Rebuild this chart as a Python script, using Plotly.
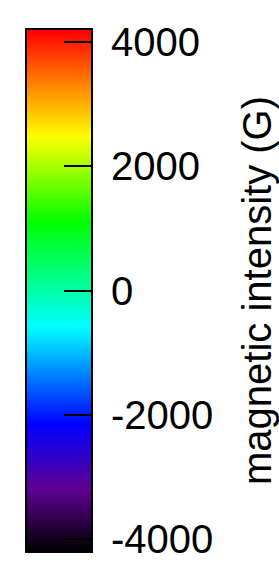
import plotly.graph_objects as go

# Data
value_min = -4190
value_max = 4190
tick_values = [-4000, -2000, 0, 2000, 4000]
tick_labels = ["-4000", "-2000", "0", "2000", "4000"]
title_text = "magnetic intensity (G)"

# Colour map stops (fraction, colour)
stop_positions = [0.0, 0.12, 0.244, 0.431, 0.632, 0.796, 1.0]
stop_colors = ["rgb(0,0,0)", "rgb(95,0,145)", "rgb(0,0,255)", "rgb(0,255,255)",
               "rgb(0,255,0)", "rgb(255,255,0)", "rgb(255,0,0)"]
colorscale = [[p, c] for p, c in zip(stop_positions, stop_colors)]

fig = go.Figure(go.Heatmap(
    x=[0, 1], y=[value_min, value_max],
    z=[[value_min, value_min], [value_max, value_max]],
    zmin=value_min, zmax=value_max, zsmooth="best",
    colorscale=colorscale, showscale=False, hoverinfo="skip",
))

font = dict(family="Liberation Sans", size=40, color="black")

fig.update_layout(
    width=279, height=567,
    margin=dict(l=27, r=188, t=30, b=16),
    paper_bgcolor="white", plot_bgcolor="white",
    showlegend=False,
    xaxis=dict(range=[0, 1], showticklabels=False, ticks="", showgrid=False,
               zeroline=False, showline=True, mirror=True, linewidth=2,
               linecolor="black", fixedrange=True),
    yaxis=dict(range=[value_min, value_max], side="right", tickvals=tick_values,
               ticktext=tick_labels, ticks="inside", ticklen=27, tickwidth=2,
               tickcolor="black", tickfont=font, ticklabelstandoff=10,
               showgrid=False, zeroline=False, showline=True, mirror=True,
               linewidth=2, linecolor="black", automargin=False, fixedrange=True,
               title=dict(text=title_text, font=font, standoff=33)),
)

fig.write_html(
    "out.html",
    config={"displayModeBar": False, "staticPlot": True},
    post_script="document.body.style.margin='0';document.body.style.overflow='hidden';",
)
